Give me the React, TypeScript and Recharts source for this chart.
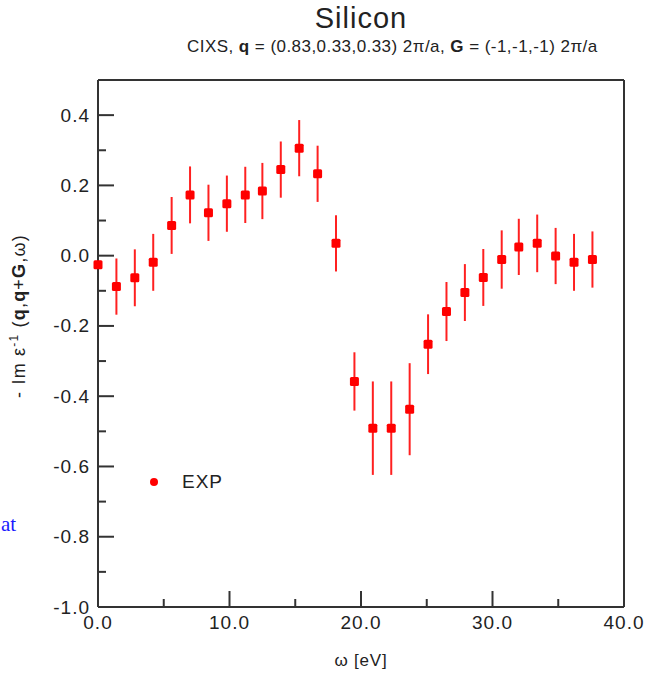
import { ErrorBar, Legend, Scatter, ScatterChart, XAxis, YAxis } from "recharts";

// energy loss (eV) and - Im eps^-1
const energy = [
  0, 1.4, 2.8, 4.2, 5.6, 7.0, 8.4, 9.8, 11.2, 12.5, 13.9, 15.3, 16.7, 18.1,
  19.5, 20.9, 22.3, 23.7, 25.1, 26.5, 27.9, 29.3, 30.7, 32.0, 33.4, 34.8, 36.2, 37.6,
];
const lossValues = [
  -0.026, -0.088, -0.063, -0.019, 0.086, 0.173, 0.122, 0.148, 0.173, 0.184, 0.245, 0.306, 0.233, 0.035,
  -0.358, -0.491, -0.491, -0.437, -0.252, -0.159, -0.105, -0.062, -0.011, 0.025, 0.035, -0.001, -0.019, -0.011,
];
const lossErrors = [
  0, 0.08, 0.081, 0.081, 0.081, 0.081, 0.08, 0.08, 0.08, 0.08, 0.08, 0.08, 0.08, 0.08,
  0.083, 0.133, 0.133, 0.131, 0.085, 0.084, 0.081, 0.081, 0.083, 0.08, 0.082, 0.08, 0.081, 0.08,
];
const xTicks = [0, 5, 10, 15, 20, 25, 30, 35, 40];
const yTicks = [-1.0, -0.9, -0.8, -0.7, -0.6, -0.5, -0.4, -0.3, -0.2, -0.1, 0.0, 0.1, 0.2, 0.3, 0.4];

const data = energy.map((e, i) => ({ energy: e, loss: lossValues[i], err: lossErrors[i] }));

const AXIS = "#333";
const FONT = "'Liberation Sans', Arial, sans-serif";
const MAJOR = 16;
const MINOR = 8;

const isMajorX = (v: number) => v % 10 === 0;
const isMajorY = (v: number) => Math.round(v * 10) % 2 === 0;

const labelStyle = { fontFamily: FONT, fontSize: 19, letterSpacing: 1, fill: "#222" };

function BottomTick({ x, y, payload }: any) {
  const major = isMajorX(payload.value);
  return (
    <g>
      <line x1={x} x2={x} y1={y} y2={y - (major ? MAJOR : MINOR)} stroke={AXIS} strokeWidth={2} />
      {major && (
        <text x={x} y={y + 15} textAnchor="middle" dominantBaseline="central" {...labelStyle}>
          {payload.value.toFixed(1)}
        </text>
      )}
    </g>
  );
}

function TopTick({ x, y, payload }: any) {
  const major = isMajorX(payload.value);
  return <line x1={x} x2={x} y1={y} y2={y + (major ? MAJOR : MINOR)} stroke={AXIS} strokeWidth={2} />;
}

function LeftTick({ x, y, payload }: any) {
  const major = isMajorY(payload.value);
  return (
    <g>
      <line x1={x} x2={x + (major ? MAJOR : MINOR)} y1={y} y2={y} stroke={AXIS} strokeWidth={2} />
      {major && (
        <text x={x - 8} y={y} textAnchor="end" dominantBaseline="central" {...labelStyle}>
          {payload.value.toFixed(1)}
        </text>
      )}
    </g>
  );
}

function RightTick({ x, y, payload }: any) {
  const major = isMajorY(payload.value);
  return <line x1={x} x2={x - (major ? MAJOR : MINOR)} y1={y} y2={y} stroke={AXIS} strokeWidth={2} />;
}

function Marker({ cx, cy }: any) {
  return <rect x={cx - 4.5} y={cy - 4.5} width={9} height={9} rx={1.5} fill="#ff0000" />;
}

function LegendBox() {
  return (
    <div style={{ display: "flex", alignItems: "center", height: 24, fontFamily: FONT }}>
      <svg width={10} height={10}>
        <circle cx={5} cy={5} r={4} fill="#ff0000" />
      </svg>
      <span style={{ marginLeft: 23, fontSize: 19, letterSpacing: 1, color: "#222" }}>EXP</span>
    </div>
  );
}

export default function App() {
  const axisLine = { stroke: AXIS, strokeWidth: 2 };
  return (
    <div style={{ position: "absolute", left: 0, top: 0, width: 656, height: 676, background: "#fff", fontFamily: FONT }}>
      <div style={{ position: "absolute", left: 0, width: 722, top: 2, textAlign: "center", fontSize: 29, letterSpacing: 1, color: "#222" }}>
        Silicon
      </div>
      <div style={{ position: "absolute", left: 187, top: 37, whiteSpace: "nowrap", fontSize: 17, letterSpacing: 0.45, color: "#222" }}>
        CIXS, <b>q</b> = (0.83,0.33,0.33) 2π/a, <b>G</b> = (-1,-1,-1) 2π/a
      </div>
      <div
        style={{
          position: "absolute",
          left: 18,
          top: 316,
          transform: "translate(-50%, -50%) rotate(-90deg)",
          whiteSpace: "nowrap",
          fontSize: 18,
          letterSpacing: 1.2,
          color: "#222",
        }}
      >
        - Im ε<sup style={{ fontSize: 12 }}>-1</sup> (<b>q</b>,<b>q</b>+<b>G</b>,ω)
      </div>
      <div style={{ position: "absolute", left: 0, width: 722, top: 651, textAlign: "center", fontSize: 17, letterSpacing: 0.8, color: "#222" }}>
        ω [eV]
      </div>
      <div style={{ position: "absolute", left: 1, top: 512, fontSize: 21, color: "#1a1aff", fontFamily: "'Liberation Serif', serif" }}>
        at
      </div>
      <ScatterChart width={656} height={676} margin={{ top: 79, right: 31, bottom: 39, left: 38 }}>
        <XAxis
          dataKey="energy"
          type="number"
          domain={[0, 40]}
          ticks={xTicks}
          interval={0}
          height={30}
          tickSize={0}
          tickMargin={0}
          tickLine={false}
          axisLine={axisLine}
          tick={<BottomTick />}
        />
        <XAxis
          xAxisId="top"
          orientation="top"
          type="number"
          domain={[0, 40]}
          ticks={xTicks}
          interval={0}
          height={1}
          tickSize={0}
          tickMargin={0}
          tickLine={false}
          axisLine={axisLine}
          tick={<TopTick />}
        />
        <YAxis
          dataKey="loss"
          type="number"
          domain={[-1, 0.5]}
          ticks={yTicks}
          interval={0}
          width={60}
          tickSize={0}
          tickMargin={0}
          tickLine={false}
          axisLine={axisLine}
          tick={<LeftTick />}
        />
        <YAxis
          yAxisId="right"
          orientation="right"
          type="number"
          domain={[-1, 0.5]}
          ticks={yTicks}
          interval={0}
          width={1}
          tickSize={0}
          tickMargin={0}
          tickLine={false}
          axisLine={axisLine}
          tick={<RightTick />}
        />
        <Legend
          layout="vertical"
          align="center"
          verticalAlign="middle"
          content={<LegendBox />}
          wrapperStyle={{ left: 149, top: 470, width: "auto" }}
        />
        <Scatter name="EXP" data={data} fill="#ff0000" shape={<Marker />} isAnimationActive={false}>
          <ErrorBar dataKey="err" direction="y" width={0} stroke="#ff2020" strokeWidth={2} isAnimationActive={false} />
        </Scatter>
      </ScatterChart>
    </div>
  );
}
